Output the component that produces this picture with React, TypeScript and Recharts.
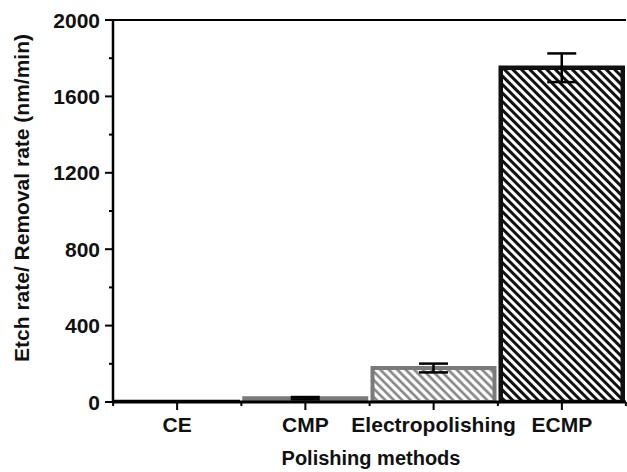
import React from "react";
import { BarChart, Bar, Cell, XAxis, YAxis, ErrorBar, ReferenceLine } from "recharts";

const methods = ["CE", "CMP", "Electropolishing", "ECMP"];
const rates = [1, 20, 178, 1750];
const errors = [0, 6, 23, 75];
const yTicks = [0, 200, 400, 600, 800, 1000, 1200, 1400, 1600, 1800, 2000];

const fills = ["#000", "#5e5e5e", "url(#hatchGray)", "url(#hatchBlack)"];
const strokes = ["#000", "#7a7a7a", "#7a7a7a", "#111"];

const data = methods.map((m, i) => ({ name: m, value: rates[i], err: errors[i] }));

const font = "'Liberation Sans', Arial, Helvetica, sans-serif";

function YTick(props: any) {
  const { x, y, payload } = props;
  const major = payload.value % 400 === 0;
  return (
    <g>
      <line x1={x - (major ? 8 : 4)} x2={x} y1={y} y2={y} stroke="#000" strokeWidth={2} />
      {major && (
        <text x={x - 13} y={y} textAnchor="end" dominantBaseline="central"
          fontFamily={font} fontWeight="bold" fontSize={21} fill="#111">
          {payload.value}
        </text>
      )}
    </g>
  );
}

function XTick(props: any) {
  const { x, y, payload, index } = props;
  const half = 64;
  return (
    <g>
      <line x1={x} x2={x} y1={y} y2={y + 8} stroke="#000" strokeWidth={2} />
      <line x1={x - half} x2={x - half} y1={y} y2={y + 4} stroke="#000" strokeWidth={2} />
      {index === methods.length - 1 && (
        <line x1={x + half} x2={x + half} y1={y} y2={y + 4} stroke="#000" strokeWidth={2} />
      )}
      <text x={x} y={y + 30} textAnchor="middle" fontFamily={font} fontWeight="bold"
        fontSize={21} fill="#111">
        {payload.value}
      </text>
    </g>
  );
}

export default function App() {
  return (
    <div style={{ position: "absolute", left: 0, top: 0, background: "#fff" }}>
      <BarChart width={627} height={472} data={data}
        margin={{ top: 20, right: 1, left: 0, bottom: 0 }}>
        <defs>
          <pattern id="hatchBlack" width={6} height={6} patternUnits="userSpaceOnUse"
            patternTransform="rotate(-45)">
            <rect width={6} height={6} fill="#fff" />
            <line x1={1.5} x2={1.5} y1={0} y2={6} stroke="#111" strokeWidth={3} />
          </pattern>
          <pattern id="hatchGray" width={6} height={6} patternUnits="userSpaceOnUse"
            patternTransform="rotate(-45)">
            <rect width={6} height={6} fill="#fff" />
            <line x1={1.5} x2={1.5} y1={0} y2={6} stroke="#808080" strokeWidth={2.5} />
          </pattern>
        </defs>
        <XAxis dataKey="name" height={70} tickSize={0} tickMargin={0}
          axisLine={{ stroke: "#000", strokeWidth: 3 }} tick={<XTick />} interval={0}
          label={{
            content: () => (
              <text x={371} y={465} textAnchor="middle" fontFamily={font}
                fontWeight="bold" fontSize={20} fill="#111">
                Polishing methods
              </text>
            ),
          }}
        />
        <YAxis width={113} domain={[0, 2000]} ticks={yTicks} tickSize={0} tickMargin={0}
          axisLine={{ stroke: "#000", strokeWidth: 2.5 }} tick={<YTick />} interval={0}
          allowDataOverflow
          label={{
            content: () => (
              <text x={21} y={198} transform="rotate(-90 21 198)" textAnchor="middle"
                dominantBaseline="central" fontFamily={font} fontWeight="bold"
                fontSize={21} fill="#111">
                Etch rate/ Removal rate (nm/min)
              </text>
            ),
          }}
        />
        <ReferenceLine y={2000} stroke="#000" strokeWidth={2} ifOverflow="visible" />
        <Bar dataKey="value" barSize={122} isAnimationActive={false}>
          {data.map((d, i) => (
            <Cell key={d.name} fill={fills[i]} stroke={strokes[i]} strokeWidth={i === 3 ? 4.5 : 4} />
          ))}
          <ErrorBar dataKey="err" width={14.5} stroke="#000" strokeWidth={2.5} />
        </Bar>
      </BarChart>
    </div>
  );
}
